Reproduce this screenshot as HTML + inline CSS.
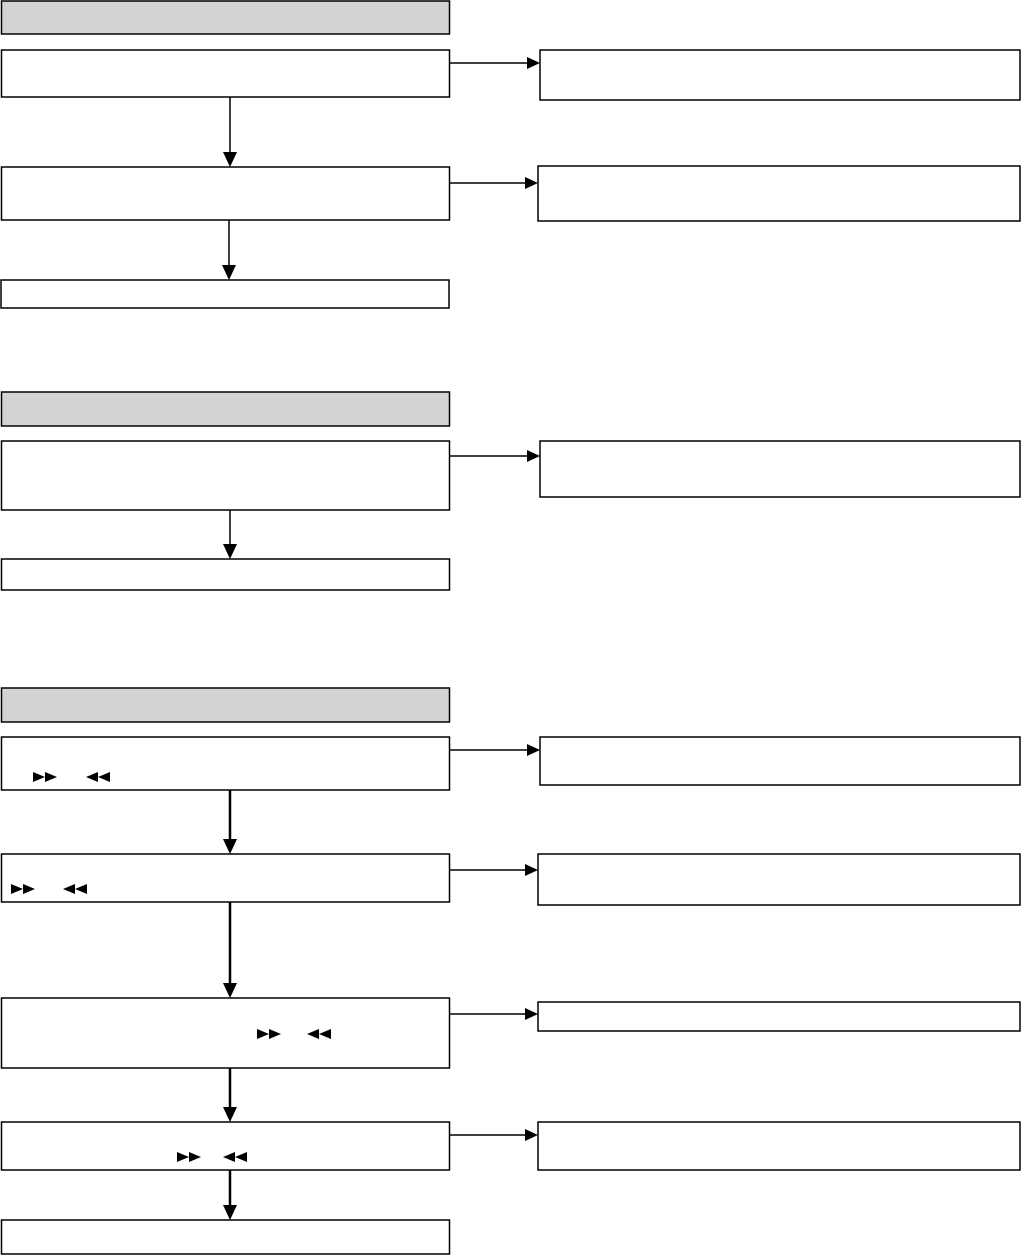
<!DOCTYPE html>
<html><head><meta charset="utf-8"><style>html,body{margin:0;padding:0;background:#fff;width:1022px;height:1256px;overflow:hidden}</style></head>
<body>
<svg width="1022" height="1256" xmlns="http://www.w3.org/2000/svg">
<g fill="none" stroke="#000" stroke-width="1.5">
<rect x="1.5" y="1" width="448" height="33" fill="#d3d3d3"/>
<rect x="1.5" y="50" width="448" height="47"/>
<rect x="540" y="50" width="480" height="50"/>
<rect x="1.5" y="167" width="448" height="53"/>
<rect x="538" y="166" width="482" height="55"/>
<rect x="1" y="280" width="448" height="28"/>

<rect x="1.5" y="392" width="448" height="34" fill="#d3d3d3"/>
<rect x="1.5" y="441" width="448" height="69"/>
<rect x="540" y="441" width="480" height="56"/>
<rect x="1.5" y="559" width="448" height="31"/>

<rect x="1.5" y="688" width="448" height="34" fill="#d3d3d3"/>
<rect x="1.5" y="737" width="448" height="53"/>
<rect x="540" y="737" width="480" height="48"/>
<rect x="1.5" y="854" width="448" height="48"/>
<rect x="538" y="854" width="482" height="51"/>
<rect x="1.5" y="998" width="448" height="70"/>
<rect x="538" y="1002" width="482" height="29"/>
<rect x="1.5" y="1122" width="448" height="48"/>
<rect x="538" y="1122" width="482" height="48"/>
<rect x="1.5" y="1220" width="448" height="34"/>
</g>
<g stroke="#000" stroke-width="1.5">
<line x1="449" y1="63" x2="528" y2="63"/>
<line x1="449" y1="183" x2="526" y2="183"/>
<line x1="449" y1="456" x2="528" y2="456"/>
<line x1="449" y1="750" x2="528" y2="750"/>
<line x1="449" y1="870" x2="526" y2="870"/>
<line x1="449" y1="1014" x2="526" y2="1014"/>
<line x1="449" y1="1135" x2="526" y2="1135"/>
<line x1="230" y1="97" x2="230" y2="155"/>
<line x1="229" y1="220" x2="229" y2="268"/>
<line x1="230" y1="510" x2="230" y2="547"/>
</g>
<g stroke="#000" stroke-width="2.5">
<line x1="230" y1="790" x2="230" y2="842"/>
<line x1="230" y1="902" x2="230" y2="986"/>
<line x1="230" y1="1068" x2="230" y2="1110"/>
<line x1="230" y1="1170" x2="230" y2="1208"/>
</g>
<g fill="#000">
<polygon points="527,57 540,63 527,69"/>
<polygon points="525,177 538,183 525,189"/>
<polygon points="527,450 540,456 527,462"/>
<polygon points="527,744 540,750 527,756"/>
<polygon points="525,864 538,870 525,876"/>
<polygon points="525,1008 538,1014 525,1020"/>
<polygon points="525,1129 538,1135 525,1141"/>
<polygon points="223,152 237,152 230,167"/>
<polygon points="222,265 236,265 229,280"/>
<polygon points="223,544 237,544 230,559"/>
<polygon points="223,839 237,839 230,854"/>
<polygon points="223,983 237,983 230,998"/>
<polygon points="223,1107 237,1107 230,1122"/>
<polygon points="223,1205 237,1205 230,1220"/>
<!-- media glyphs -->
<polygon points="33,772 45,777 33,782"/><polygon points="45,772 57,777 45,782"/>
<polygon points="98,772 86,777 98,782"/><polygon points="110,772 98,777 110,782"/>
<polygon points="11,884 23,889 11,894"/><polygon points="23,884 35,889 23,894"/>
<polygon points="75,884 63,889 75,894"/><polygon points="87,884 75,889 87,894"/>
<polygon points="257,1029 269,1034 257,1039"/><polygon points="269,1029 281,1034 269,1039"/>
<polygon points="319,1029 307,1034 319,1039"/><polygon points="331,1029 319,1034 331,1039"/>
<polygon points="177,1152 189,1157 177,1162"/><polygon points="189,1152 201,1157 189,1162"/>
<polygon points="235,1152 223,1157 235,1162"/><polygon points="247,1152 235,1157 247,1162"/>
</g>
</svg>
</body></html>
